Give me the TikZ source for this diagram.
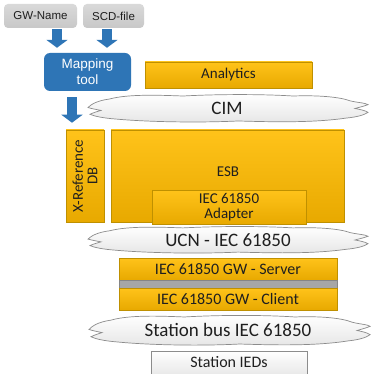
\documentclass[tikz,border=0pt]{standalone}
\usepackage{fontspec}
\setmainfont{Carlito}
\newfontfamily\arialf{Liberation Sans}
\usetikzlibrary{arrows.meta}
\definecolor{orangeA}{HTML}{FFC31A}
\definecolor{orangeB}{HTML}{E8A900}
\definecolor{orangeE}{HTML}{BF9000}
\definecolor{blueA}{HTML}{2E75B6}
\definecolor{grayA}{HTML}{D9D9D9}
\definecolor{grayB}{HTML}{C8C8C8}
\definecolor{stripC}{HTML}{A6A6A6}
\definecolor{cloudE}{HTML}{8C8C8C}
\definecolor{cloudB}{HTML}{E6E6E6}
\definecolor{txt}{HTML}{1F1F1F}
\tikzset{
  obox/.style={draw=orangeE, line width=0.6pt, top color=orangeA, bottom color=orangeB,
    text=txt, inner sep=0pt, align=center},
  gbox/.style={rounded corners=4pt, top color=grayA, bottom color=grayB, draw=none,
    text=txt, inner sep=0pt, font=\arialf\fontsize{11.5}{13}\selectfont},
  bbox/.style={rounded corners=6pt, fill=blueA, draw=none, text=white, inner sep=0pt,
    align=center, font=\arialf\fontsize{13.5}{16}\selectfont},
  barrow/.style={line width=9.5pt, blueA, -{Triangle[width=21pt,length=8pt]}},
  cloudline/.style={draw=cloudE, line width=0.7pt, top color=white, bottom color=cloudB},
  netcloud/.pic={
    \path[cloudline]
      (0,-1) .. controls (3,-4) and (8,-8) .. (22,-10)
      .. controls (40,-15) and (70,-14) .. (95,-13)
      .. controls (130,-15) and (175,-15) .. (205,-13)
      .. controls (230,-14) and (252,-12) .. (262,-8)
      .. controls (270,-6) and (277,-6) .. (280,-4)
      .. controls (275,-2) and (270,-1) .. (267,0)
      .. controls (272,1) and (277,2) .. (280,4)
      .. controls (276,7) and (268,9) .. (258,10)
      .. controls (225,15) and (185,14) .. (150,13)
      .. controls (110,15) and (60,14) .. (28,11)
      .. controls (15,10) and (6,8) .. (2,6)
      .. controls (6,4) and (10,3) .. (13,2)
      .. controls (8,1) and (3,0) .. (0,-1) -- cycle;
  },
  f15/.style={font=\fontsize{15}{14.5}\selectfont},
  f16/.style={font=\fontsize{16}{18}\selectfont},
  f18/.style={font=\fontsize{19}{21}\selectfont}
}
\begin{document}
\begin{tikzpicture}[x=1pt,y=-1pt]
\useasboundingbox[fill=white] (0,0) rectangle (370,374);

% top inputs
\node[gbox, minimum width=73pt, minimum height=24pt] (gw) at (40.5,16) {GW-Name};
\node[gbox, minimum width=61pt, minimum height=24pt] (scd) at (113.5,16) {SCD-file};
\node[bbox, minimum width=87pt, minimum height=38pt] (map) at (87.5,72) {Mapping\\tool};

% orange boxes
\node[obox, f15, minimum width=167pt, minimum height=26pt] (ana) at (228.5,75) {Analytics};
\node[obox, minimum width=233pt, minimum height=92pt] (esb) at (227.5,176) {};
\node[text=txt, f15] (esbl) at (228,172) {ESB};
\node[obox, minimum width=38pt, minimum height=92pt] (xref) at (85,176) {};
\node[text=txt, f15, rotate=90, align=center] (xrefl) at (xref.center) {X-Reference\\DB};
\node[obox, f15, minimum width=154pt, minimum height=34pt] (adp) at (229,207) {IEC 61850\\Adapter};

\node[obox, f16, minimum width=218pt, minimum height=22pt] (srv) at (228,269) {IEC 61850 GW - Server};
\node[fill=stripC, draw=stripC!80!black, line width=0.4pt, minimum width=218pt, minimum height=8pt, inner sep=0pt] (strip) at (228,284) {};
\node[obox, f16, minimum width=218pt, minimum height=22pt] (cli) at (228,299) {IEC 61850 GW - Client};

\node[draw=cloudE, line width=0.6pt, top color=white, bottom color=cloudB, text=txt, f16,
      minimum width=156pt, minimum height=26pt, inner sep=0pt] (ieds) at (229,364) {};
\node[text=txt, f16] (iedsl) at (229,362) {Station IEDs};

% clouds
\pic[yscale=0.96] at (88,108.5) {netcloud};
\node[text=txt, f18] (cim) at (227,108) {CIM};
\pic[yscale=0.93] at (88,240) {netcloud};
\node[text=txt, f18] (ucn) at (228,240) {UCN - IEC 61850};
\pic[yscale=1.04, xscale=1.004] at (89,330.5) {netcloud};
\node[text=txt, f18] (sbus) at (228,330) {Station bus IEC 61850};

% block arrows
\coordinate (a1) at (57,0);
\coordinate (a2) at (107,0);
\coordinate (a3) at (72,0);
\draw[barrow, shorten <=1pt, shorten >=5pt] (a1 |- gw.south) -- (a1 |- map.north);
\draw[barrow, shorten <=1pt, shorten >=5pt] (a2 |- scd.south) -- (a2 |- map.north);
\draw[barrow, shorten <=6pt, shorten >=7pt] (a3 |- map.south) -- (a3 |- xref.north);
\end{tikzpicture}
\end{document}
